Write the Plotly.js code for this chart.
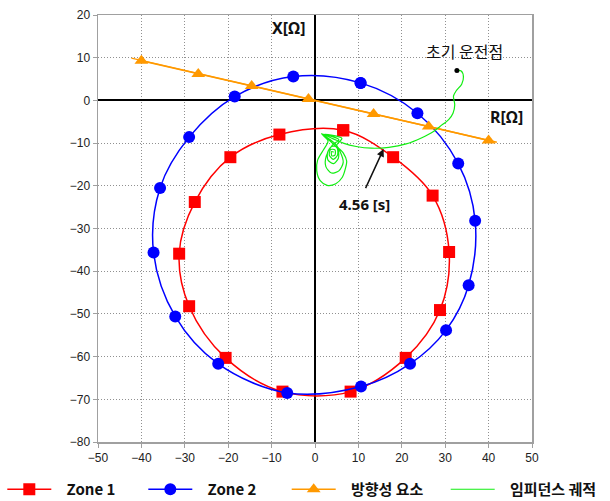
<!DOCTYPE html>
<html>
<head>
<meta charset="utf-8">
<script src="https://cdn.plot.ly/plotly-3.0.1.min.js"></script>
<style>html,body{margin:0;padding:0;background:#fff;}#chart{width:610px;height:501px;}</style>
</head>
<body>
<div id="chart"></div>
<script>
// Zone 1 (red squares), clockwise from top
var zone1R = [6.5, 18.0, 27.1, 30.9, 28.8, 20.9, 8.2, -7.5, -20.6, -29.0, -31.3, -27.7, -19.5, -8.2, 6.5];
var zone1X = [-7.0, -13.3, -22.3, -35.5, -49.1, -60.3, -68.2, -68.2, -60.3, -48.2, -35.9, -23.8, -13.3, -8.0, -7.0];
// Zone 2 (blue circles)
var zone2R = [10.5, 23.6, 33.0, 36.9, 35.4, 30.2, 21.9, 10.6, -6.4, -22.3, -32.2, -37.2, -35.7, -29.0, -18.5, -5.0, 10.5];
var zone2X = [4.1, -3.0, -14.8, -28.2, -43.3, -53.8, -61.7, -67.0, -68.5, -61.7, -50.6, -35.6, -20.5, -8.6, 0.9, 5.6, 4.1];
// Directional element (orange triangles)
var dirLineR = [-42.3, 41.9];
var dirLineX = [9.9, -9.8];
var dirR = [-40, -26.9, -14.6, -1.5, 13.5, 26.2, 40];
var dirX = [9.3, 6.2, 3.4, 0.3, -3.2, -6.1, -9.4];
// Impedance trajectory (green)
var trajR = [32.7, 33.7, 34.2, 33.8, 32.5, 31.9, 32.2, 31.8, 30.8, 28.8, 27.3, 24.5, 21.0, 17.0, 13.0, 9.5, 6.5, 4.2, 1.5,
  3.0, 2.0, 0.6, 0.4, 1.2, 2.8, 4.8, 6.3, 7.0, 7.3, 6.5, 5.0, 6.2, 2.0,
  4.5, 5.8, 6.5, 5.5, 3.8, 2.5, 2.6, 4.0, 5.5, 2.2,
  4.2, 5.3, 5.4, 4.3, 3.0, 2.9, 3.8, 5.0, 5.2, 4.2, 3.3, 3.6, 4.6, 4.6, 3.9, 3.8, 4.3];
var trajX = [7.0, 6.9, 5.5, 3.8, 2.2, 1.0, -1.0, -3.0, -4.5, -6.1, -7.3, -8.8, -10.2, -11.0, -11.2, -10.8, -10.0, -9.0, -7.8,
  -9.5, -11.5, -14.0, -16.5, -18.8, -19.9, -19.5, -18.0, -16.0, -14.2, -12.3, -10.5, -8.9, -8.0,
  -10.0, -12.0, -14.5, -16.5, -17.0, -15.5, -13.0, -10.5, -9.2, -8.1,
  -10.2, -11.5, -13.5, -14.8, -14.0, -12.2, -10.8, -10.9, -12.8, -13.8, -12.8, -11.5, -11.6, -12.8, -13.0, -12.0, -12.1];
var startR = [32.7];
var startX = [7.0];
var tickVals = [-50, -40, -30, -20, -10, 0, 10, 20, 30, 40, 50];

var PAD = '\u00a0\u00a0\u00a0';
var traces = [
  {x: zone1R, y: zone1X, mode: 'lines+markers', name: PAD + 'Zone 1', legend: 'legend',
   line: {color: '#ff0000', width: 1.5, shape: 'spline', smoothing: 1},
   marker: {symbol: 'square', size: 12, color: '#ff0000'}},
  {x: zone2R, y: zone2X, mode: 'lines+markers', name: PAD + 'Zone 2', legend: 'legend',
   line: {color: '#0000ff', width: 1.5, shape: 'spline', smoothing: 1},
   marker: {symbol: 'circle', size: 12, color: '#0000ff'}},
  {x: dirLineR, y: dirLineX, mode: 'lines', showlegend: false, hoverinfo: 'skip',
   line: {color: '#ff9900', width: 1.5}},
  {x: dirR, y: dirX, mode: 'lines+markers', name: PAD + '방향성 요소', legend: 'legend2',
   line: {color: '#ff9900', width: 1.5},
   marker: {symbol: 'triangle-up', size: 12, color: '#ff9900'}},
  {x: trajR, y: trajX, mode: 'lines', name: PAD + '임피던스 궤적', legend: 'legend2',
   line: {color: '#11ee11', width: 1.2, shape: 'spline', smoothing: 0.8}},
  {x: startR, y: startX, mode: 'markers', showlegend: false,
   marker: {color: '#000', size: 5}}
];

var axisCommon = {
  showgrid: true, gridcolor: '#909090', griddash: '1px,2px', gridwidth: 1,
  zeroline: true, zerolinecolor: '#000', zerolinewidth: 2,
  showline: true, linecolor: '#a0a0a0', linewidth: 1.5, mirror: true,
  ticks: 'outside', ticklen: 4, tickcolor: '#a0a0a0',
  tickfont: {family: 'Liberation Sans Narrow, Liberation Sans, Arial', size: 12, color: '#222'},
  fixedrange: true, automargin: false
};

var legendFont = {family: 'Noto Sans CJK KR, Noto Sans', size: 15, color: '#111', weight: 'bold'};

var layout = {
  width: 610, height: 501,
  margin: {l: 98, r: 78, t: 15, b: 59, autoexpand: false},
  paper_bgcolor: '#fff', plot_bgcolor: '#fff',
  xaxis: Object.assign({}, axisCommon, {range: [-50, 50], tickvals: tickVals}),
  yaxis: Object.assign({}, axisCommon, {range: [-80, 20], dtick: 10}),
  showlegend: true,
  legend: {orientation: 'h', x: -0.2205, xanchor: 'left', y: -0.0726, yanchor: 'top',
    font: legendFont, itemwidth: 44, entrywidth: 82, bgcolor: 'rgba(0,0,0,0)'},
  legend2: {orientation: 'h', x: 0.4348, xanchor: 'left', y: -0.0726, yanchor: 'top',
    font: legendFont, itemwidth: 44, entrywidth: 100, bgcolor: 'rgba(0,0,0,0)'},
  annotations: [
    {x: -6.0, y: 17.0, xref: 'x', yref: 'y', text: 'X[Ω]', showarrow: false,
     font: {family: 'Noto Sans, Liberation Sans', size: 16, color: '#111', weight: 'bold'}},
    {x: 44.2, y: -3.8, xref: 'x', yref: 'y', text: 'R[Ω]', showarrow: false,
     font: {family: 'Noto Sans, Liberation Sans', size: 16, color: '#111', weight: 'bold'}},
    {x: 34.4, y: 11.5, xref: 'x', yref: 'y', text: '초기 운전점', showarrow: false,
     font: {family: 'Noto Sans CJK KR', size: 16, color: '#111'}},
    {x: 11.5, y: -24.3, xref: 'x', yref: 'y', text: '4.56 [s]', showarrow: false,
     font: {family: 'Noto Sans, Liberation Sans', size: 15, color: '#111', weight: 'bold'}},
    {x: 15.8, y: -11.4, xref: 'x', yref: 'y', ax: 11.5, ay: -20.9, axref: 'x', ayref: 'y',
     text: '', showarrow: true, arrowhead: 2, arrowsize: 1, arrowwidth: 1.5, arrowcolor: '#111'}
  ]
};

Plotly.newPlot('chart', traces, layout, {displayModeBar: false, staticPlot: true});
</script>
</body>
</html>
